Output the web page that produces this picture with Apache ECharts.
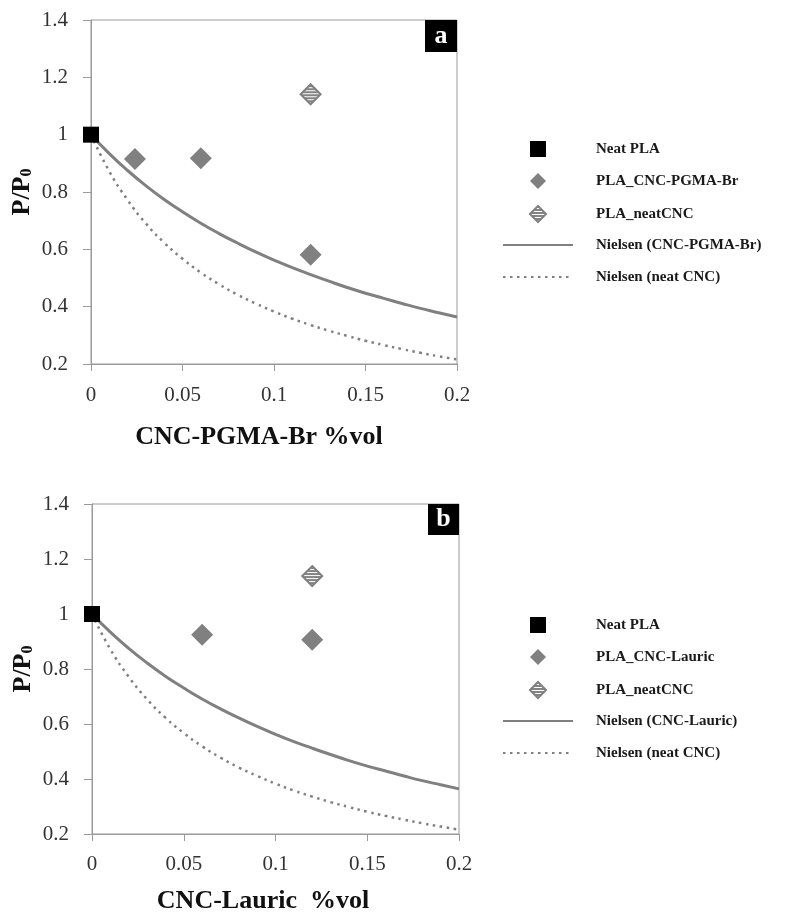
<!DOCTYPE html>
<html>
<head>
<meta charset="utf-8">
<script src="https://cdn.jsdelivr.net/npm/echarts@6/dist/echarts.min.js"></script>
<style>html,body{margin:0;padding:0;background:#fff;}#c{width:790px;height:915px;}</style>
</head>
<body>
<div id="c"></div>
<script>
// ---- data ----
const neatPLA = [[0, 1]];
const pgmaBr = [[0.024, 0.915], [0.06, 0.918], [0.12, 0.581]];
const neatCNC_a = [[0.12, 1.141]];
const lauric = [[0.06, 0.925], [0.12, 0.906]];
const neatCNC_b = [[0.12, 1.138]];
const nielsenX = [0, 0.01, 0.02, 0.03, 0.04, 0.05, 0.06, 0.07, 0.08, 0.09, 0.1, 0.11, 0.12, 0.13, 0.14, 0.15, 0.16, 0.17, 0.18, 0.19, 0.2];
const nielsenModY = [1, 0.934, 0.875, 0.822, 0.774, 0.731, 0.691, 0.655, 0.622, 0.591, 0.5625, 0.536, 0.512, 0.489, 0.467, 0.447, 0.429, 0.411, 0.394, 0.379, 0.364];
const nielsenNeatY = [1, 0.872, 0.772, 0.690, 0.623, 0.567, 0.519, 0.478, 0.442, 0.411, 0.383, 0.358, 0.336, 0.316, 0.298, 0.281, 0.266, 0.252, 0.239, 0.227, 0.216];
const xTicks = [0, 0.05, 0.1, 0.15, 0.2];
const yTicks = [0.2, 0.4, 0.6, 0.8, 1, 1.2, 1.4];
const legendMarkA = ['Neat PLA', 'PLA_CNC-PGMA-Br', 'PLA_neatCNC'];
const legendLineA = ['Nielsen (CNC-PGMA-Br)', 'Nielsen (neat CNC)'];
const legendMarkB = ['Neat PLA', 'PLA_CNC-Lauric', 'PLA_neatCNC'];
const legendLineB = ['Nielsen (CNC-Lauric)', 'Nielsen (neat CNC)'];

const zip = (xs, ys) => xs.map((x, i) => [x, ys[i]]);

// hatched fill pattern
const pc = document.createElement('canvas');
pc.width = 4; pc.height = 3;
const pctx = pc.getContext('2d');
pctx.fillStyle = '#ffffff'; pctx.fillRect(0, 0, 4, 3);
pctx.fillStyle = '#848484'; pctx.fillRect(0, 0, 4, 2);
const NEAT_SIZE = 20;
// symbols are drawn at unit size and scaled by size/2, so the pattern is pre-shrunk
const hatchPlot = { image: pc, repeat: 'repeat', scaleX: 2 / NEAT_SIZE, scaleY: 2 / NEAT_SIZE };
const hatchLegend = { image: pc, repeat: 'repeat' };

const SERIF = '"Liberation Serif", "Times New Roman", serif';
const GRAY = '#808080';
const AX = '#9a9a9a';

function xAxisCfg(gi, name, gap, shift, margin) {
  return {
    type: 'value', gridIndex: gi, min: 0, max: 0.2, interval: 0.05,
    name: name, nameLocation: 'middle', nameGap: gap,
    nameTextStyle: { fontFamily: SERIF, fontWeight: 'bold', fontSize: 26, color: '#111', padding: [0, shift, 0, 0] },
    axisLine: { show: true, lineStyle: { color: AX, width: 1 } },
    axisTick: { show: true, length: 7, lineStyle: { color: AX } },
    axisLabel: { fontFamily: SERIF, fontSize: 21, color: '#333', margin: margin },
    splitLine: { show: false }
  };
}
function yAxisCfg(gi) {
  return {
    type: 'value', gridIndex: gi, min: 0.2, max: 1.4, interval: 0.2,
    name: '{p|P/P}{s|0}', nameLocation: 'middle', nameGap: 56,
    nameTextStyle: {
      rich: {
        p: { fontFamily: SERIF, fontWeight: 'bold', fontSize: 26, color: '#111' },
        s: { fontFamily: SERIF, fontWeight: 'bold', fontSize: 16, color: '#111', verticalAlign: 'bottom', padding: [9, 0, 0, 0] }
      }
    },
    axisLine: { show: true, lineStyle: { color: AX, width: 1 } },
    axisTick: { show: true, length: 8, lineStyle: { color: AX } },
    axisLabel: { fontFamily: SERIF, fontSize: 21, color: '#333', margin: 23 },
    splitLine: { show: false }
  };
}
function legendCfg(data, top, left, w, pad) {
  return {
    data: data.map(n => n === 'PLA_neatCNC'
      ? { name: n, itemStyle: { color: hatchLegend, borderColor: GRAY, borderWidth: 2 } }
      : n),
    orient: 'vertical', left: left, top: top,
    itemWidth: w, itemHeight: 16, itemGap: 16,
    textStyle: { fontFamily: SERIF, fontWeight: 'bold', fontSize: 15, color: '#1a1a1a', lineHeight: 16, padding: [0, 0, 0, pad] },
    selectedMode: false
  };
}
function panel(gi, idName, idData, idNeat, modName) {
  return [
    { name: modName, type: 'line', xAxisIndex: gi, yAxisIndex: gi, data: zip(nielsenX, nielsenModY), smooth: true, showSymbol: false, symbol: 'none', lineStyle: { color: GRAY, width: 3 }, itemStyle: { color: 'rgba(0,0,0,0)', opacity: 0 }, z: 2 },
    { name: 'Nielsen (neat CNC)', type: 'line', xAxisIndex: gi, yAxisIndex: gi, data: zip(nielsenX, nielsenNeatY), smooth: true, showSymbol: false, symbol: 'none', lineStyle: { color: GRAY, width: 2.5, type: [2.5, 4.5] }, itemStyle: { color: 'rgba(0,0,0,0)', opacity: 0 }, z: 2 },
    { name: idName, type: 'scatter', xAxisIndex: gi, yAxisIndex: gi, data: idData, symbol: 'diamond', symbolSize: 22, itemStyle: { color: GRAY, opacity: 1 }, clip: false, z: 3 },
    { name: 'PLA_neatCNC', type: 'scatter', xAxisIndex: gi, yAxisIndex: gi, data: idNeat, symbol: 'diamond', symbolSize: NEAT_SIZE, itemStyle: { color: hatchPlot, borderColor: GRAY, borderWidth: 2, opacity: 1 }, clip: false, z: 3 },
    { name: 'Neat PLA', type: 'scatter', xAxisIndex: gi, yAxisIndex: gi, data: neatPLA, symbol: 'rect', symbolSize: 16, itemStyle: { color: '#000', opacity: 1 }, clip: false, z: 4 }
  ];
}

const chart = echarts.init(document.getElementById('c'), null, { renderer: 'canvas' });
chart.setOption({
  backgroundColor: '#fff',
  animation: false,
  grid: [
    { left: 91, top: 20, width: 366, height: 344, show: true, borderColor: AX, borderWidth: 1, backgroundColor: 'transparent' },
    { left: 92, top: 504, width: 367, height: 335, show: true, borderColor: AX, borderWidth: 1, backgroundColor: 'transparent' }
  ],
  xAxis: [xAxisCfg(0, 'CNC-PGMA-Br %vol', 60, 30, 21), xAxisCfg(1, 'CNC-Lauric  %vol', 54, 25, 20)],
  yAxis: [yAxisCfg(0), yAxisCfg(1)],
  legend: [
    legendCfg(legendMarkA, 136, 524, 16, 45),
    legendCfg(legendLineA, 232, 497, 70, 18),
    legendCfg(legendMarkB, 612, 524, 16, 45),
    legendCfg(legendLineB, 708, 497, 70, 18)
  ],
  series: [].concat(
    panel(0, 'PLA_CNC-PGMA-Br', pgmaBr, neatCNC_a, 'Nielsen (CNC-PGMA-Br)'),
    panel(1, 'PLA_CNC-Lauric', lauric, neatCNC_b, 'Nielsen (CNC-Lauric)')
  ),
  graphic: [
    { type: 'group', left: 425, top: 20, children: [
      { type: 'rect', shape: { x: 0, y: 0, width: 32, height: 32 }, style: { fill: '#000' } },
      { type: 'text', x: 16, y: 16, style: { text: 'a', fill: '#fff', font: 'bold 26px ' + SERIF, textAlign: 'center', textVerticalAlign: 'middle' } }
    ]},
    { type: 'group', left: 428, top: 504, children: [
      { type: 'rect', shape: { x: 0, y: 0, width: 31, height: 31 }, style: { fill: '#000' } },
      { type: 'text', x: 15.5, y: 15.5, style: { text: 'b', fill: '#fff', font: 'bold 26px ' + SERIF, textAlign: 'center', textVerticalAlign: 'middle' } }
    ]}
  ]
});
</script>
</body>
</html>
